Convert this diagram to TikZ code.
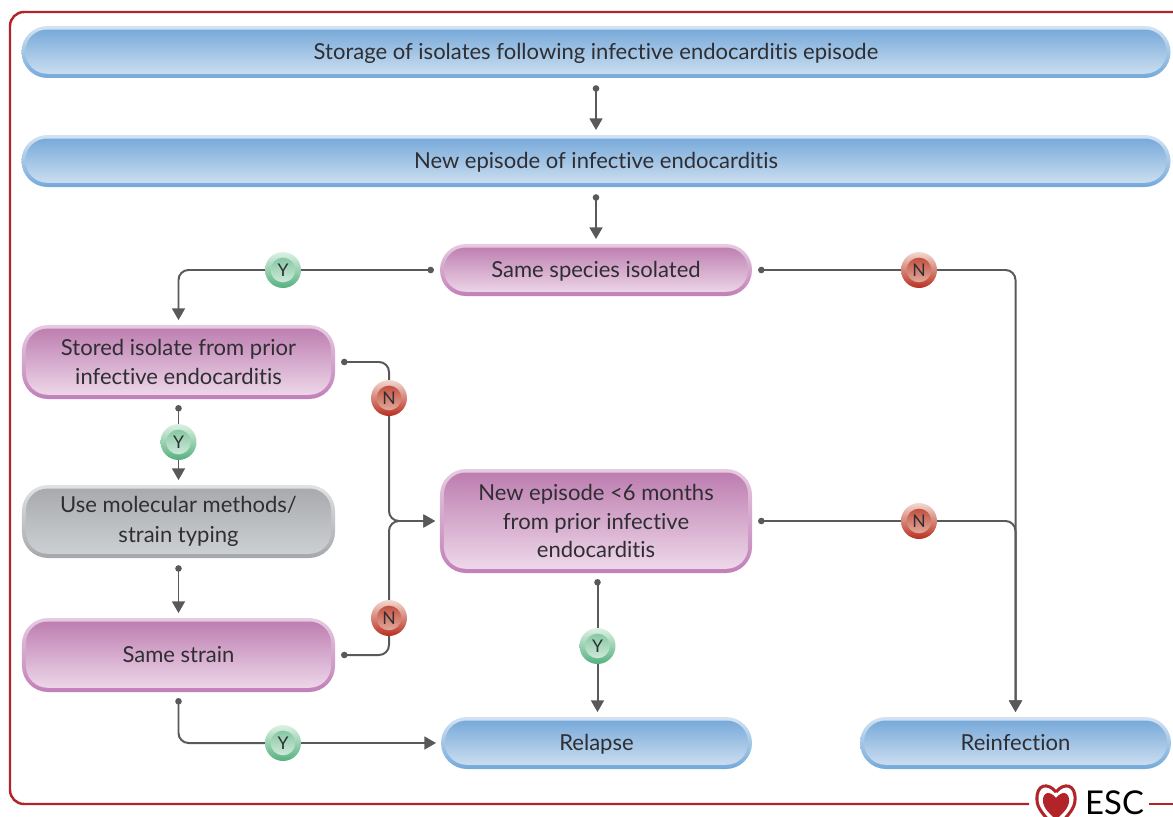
\documentclass[tikz,border=0pt]{standalone}
\usepackage{fontspec}
\setmainfont[Ligatures=NoCommon]{Lato}
\usetikzlibrary{arrows.meta}
\definecolor{framered}{HTML}{B2242A}
\definecolor{linegray}{HTML}{58595B}
\definecolor{textgray}{HTML}{2E2E33}
\definecolor{blueA}{HTML}{D3E3F2}
\definecolor{blueB}{HTML}{74A9DB}
\definecolor{blueC}{HTML}{72A6D8}
\definecolor{blueD}{HTML}{D2E2F2}
\definecolor{purpleA}{HTML}{E6CBE1}
\definecolor{purpleB}{HTML}{C27FB8}
\definecolor{purpleC}{HTML}{BB7AAE}
\definecolor{purpleD}{HTML}{F0DCEC}
\definecolor{greyA}{HTML}{E0E2E3}
\definecolor{greyB}{HTML}{A5A7AA}
\definecolor{greyC}{HTML}{A6A8AB}
\definecolor{greyD}{HTML}{CFD2D5}
\definecolor{greenA}{HTML}{DDF1E4}
\definecolor{greenB}{HTML}{55B07F}
\definecolor{greenC}{HTML}{76C097}
\definecolor{greenD}{HTML}{DFF1E6}
\definecolor{redA}{HTML}{F2D9D0}
\definecolor{redB}{HTML}{B92E20}
\definecolor{redC}{HTML}{BC3A2A}
\definecolor{redD}{HTML}{E9BFB2}
\tikzset{
  flowbox/.style n args={4}{
    rounded corners=0.78cm, top color=#1, bottom color=#2, text=textgray,
    align=center, inner sep=0pt, font=\fontsize{18.8}{24.7}\selectfont,
    path picture={
      \shade[rounded corners=0.65cm, top color=#3, bottom color=#4]
        ([xshift=3.4pt,yshift=-3pt]path picture bounding box.north west) rectangle
        ([xshift=-3.4pt,yshift=3.6pt]path picture bounding box.south east);
    }},
  bluebox/.style={flowbox={blueA}{blueB}{blueC}{blueD}},
  purplebox/.style={flowbox={purpleA}{purpleB}{purpleC}{purpleD}},
  greybox/.style={flowbox={greyA}{greyB}{greyC}{greyD}},
  oneline/.style={text height=16pt, text depth=2.4pt},
  badge/.style n args={4}{
    circle, minimum size=1.08cm, inner sep=0pt, top color=#1, bottom color=#2,
    text=textgray, font=\fontsize{15}{15}\selectfont,
    path picture={
      \shade[top color=#3, bottom color=#4]
        (path picture bounding box.center) circle (0.37cm);
    }},
  yesbadge/.style={badge={greenA}{greenB}{greenC}{greenD}},
  nobadge/.style={badge={redA}{redB}{redC}{redD}},
  dotline/.style={linegray, line width=1.7pt, rounded corners=0.3cm,
    {Circle[length=5.5pt]}-, shorten <=5pt},
  tipline/.style={linegray, line width=1.7pt, rounded corners=0.3cm,
    -{Stealth[length=10pt,width=11pt,inset=0pt]}, shorten >=4pt},
  dotarrow/.style={linegray, line width=1.7pt, rounded corners=0.3cm,
    {Circle[length=5.5pt]}-{Stealth[length=10pt,width=11pt,inset=0pt]}, shorten <=6pt, shorten >=4pt},
}
\begin{document}
\begin{tikzpicture}[x=0.03cm,y=-0.03cm]
  \useasboundingbox (0,0) rectangle (1173,817);
  % frame
  \draw[framered, line width=2.1pt, rounded corners=0.42cm]
    (1173,12) -- (10,12) -- (10,804) -- (1029,804);
  \draw[framered, line width=2.1pt] (1149,804) -- (1173,804);
  % boxes
  \node[bluebox, oneline, minimum width=34.47cm, minimum height=1.56cm] (storage) at (596,52) {Storage of isolates following infective endocarditis episode};
  \node[bluebox, oneline, minimum width=34.47cm, minimum height=1.56cm] (episode) at (596,161) {New episode of infective endocarditis};
  \node[purplebox, oneline, minimum width=9.36cm, minimum height=1.56cm] (species) at (596,270) {Same species isolated};
  \node[purplebox, minimum width=9.39cm, minimum height=2.22cm] (stored) at (178.5,362) {Stored isolate from prior\\infective endocarditis};
  \node[greybox, minimum width=9.39cm, minimum height=2.19cm] (typing) at (178.5,521.5) {Use molecular methods/\\[1.5pt]strain typing};
  \node[purplebox, oneline, minimum width=9.39cm, minimum height=2.22cm] (strain) at (178.5,655) {Same strain};
  \node[purplebox, minimum width=9.36cm, minimum height=3.12cm] (months) at (596,521) {New episode <6 months\\from prior infective\\endocarditis};
  \node[bluebox, oneline, minimum width=9.33cm, minimum height=1.56cm] (relapse) at (596.5,743) {Relapse};
  \node[bluebox, oneline, minimum width=9.33cm, minimum height=1.56cm] (reinfection) at (1015.5,743) {Reinfection};
  % badges
  \node[yesbadge] (yspecies) at (283,270) {Y};
  \node[nobadge] (nspecies) at (919,270) {N};
  \node[nobadge] (nstored) at (389,398) {N};
  \node[yesbadge] (ystored) at (178.5,442) {Y};
  \node[nobadge] (nmonths) at (919,521) {N};
  \node[nobadge] (nstrain) at (389,618) {N};
  \node[yesbadge] (ymonths) at (597.5,646) {Y};
  \node[yesbadge] (ystrain) at (283,743) {Y};
  % connectors
  \draw[dotarrow] (storage) -- (episode);
  \draw[dotarrow] (episode) -- (species);
  \draw[dotline] (species.west) -- (yspecies.east);
  \draw[tipline] (yspecies.west) -| (stored.north);
  \draw[dotline] (species.east) -- (nspecies.west);
  \draw[tipline] (nspecies.east) -| (reinfection.north);
  \draw[dotline] (stored.east) -| (nstored.north);
  \draw[tipline] (nstored.south) |- (months.west);
  \draw[dotline] (stored.south) -- (ystored.north);
  \draw[tipline] (ystored.south) -- (typing.north);
  \draw[dotarrow] (typing.south) -- (strain.north);
  \draw[dotline] (strain.east) -| (nstrain.south);
  \draw[tipline] (nstrain.north) |- (months.west);
  \draw[dotline] (months.east) -- (nmonths.west);
  \draw[tipline] (nmonths.east) -| (reinfection.north);
  \draw[dotline] (ymonths.north |- months.south) -- (ymonths.north);
  \draw[tipline] (ymonths.south) -- (ymonths.south |- relapse.north);
  \draw[dotline] (strain.south) |- (ystrain.west);
  \draw[tipline] (ystrain.east) -- (relapse.west);
  % logo
  \draw[framered, line width=2.6pt] (1056,792)
    .. controls (1048,782) and (1036,784) .. (1037,800)
    .. controls (1037,808) and (1044,815) .. (1050,822);
  \draw[framered, line width=2.6pt] (1056,792)
    .. controls (1064,782) and (1076,784) .. (1075,800)
    .. controls (1075,808) and (1068,815) .. (1062,822);
  \fill[framered] (1056,798)
    .. controls (1050,790) and (1042,792) .. (1043,802)
    .. controls (1044,810) and (1052,815) .. (1056,820)
    .. controls (1060,815) and (1068,810) .. (1069,802)
    .. controls (1070,792) and (1062,790) .. (1056,798) -- cycle;
  \node[anchor=base west, inner sep=0pt, text=black, font=\fontsize{28}{29}\selectfont] (esc) at (1085,814.5) {ESC};
\end{tikzpicture}
\end{document}
